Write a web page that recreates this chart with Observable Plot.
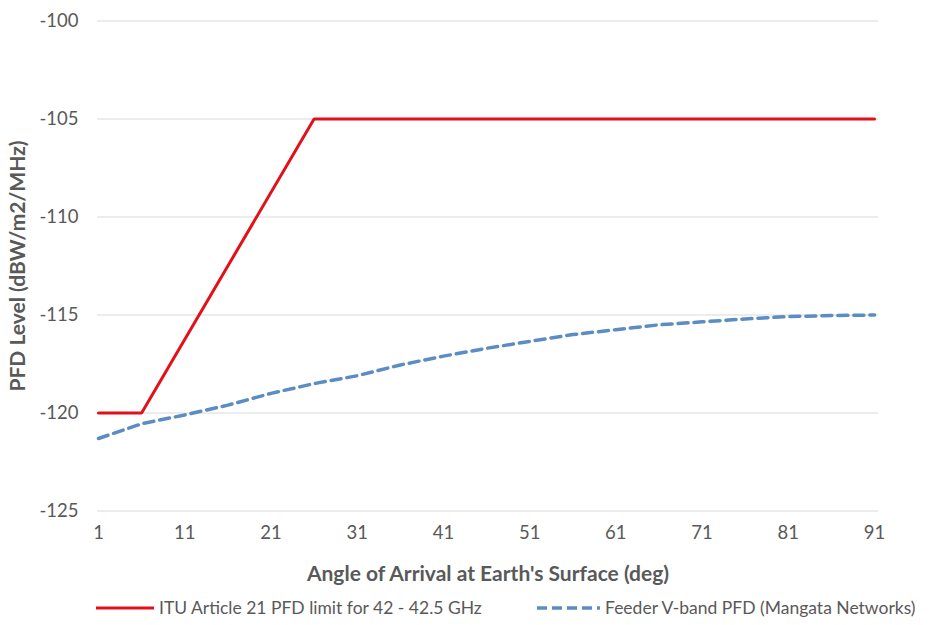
<!DOCTYPE html>
<html><head><meta charset="utf-8">
<script src="https://cdn.jsdelivr.net/npm/d3@7"></script>
<script src="https://cdn.jsdelivr.net/npm/@observablehq/plot@0.6"></script>
<style>
body{margin:0;background:#fff;font-family:Lato, "Open Sans", sans-serif;}
#wrap{position:relative;width:935px;height:625px;}
#legend{position:absolute;left:0;top:590px;width:935px;height:35px;font-size:17.5px;color:#595959;}
#legend .item{position:absolute;top:0;height:35px;display:flex;align-items:center;}
#legend svg{display:block;}
</style>
</head><body>
<div id="wrap"><div id="chart"></div><div id="legend"></div></div>
<script>
// ITU Article 21 PFD limit (vertices)
const ituAngle = [1, 6, 26, 91];
const ituPfd = [-120, -120, -105, -105];
// Feeder V-band PFD (Mangata Networks)
const feederAngle = [1, 6, 11, 16, 21, 26, 31, 36, 41, 46, 51, 56, 61, 66, 71, 76, 81, 86, 91];
const feederPfd = [-121.3, -120.55, -120.1, -119.6, -119.0, -118.5, -118.1, -117.55, -117.1, -116.7, -116.35, -116.0, -115.75, -115.5, -115.35, -115.2, -115.08, -115.03, -115.0];
const xTicks = [1, 11, 21, 31, 41, 51, 61, 71, 81, 91];
const yTicks = [-125, -120, -115, -110, -105, -100];
const seriesNames = ["ITU Article 21 PFD limit for 42 - 42.5 GHz", "Feeder V-band PFD (Mangata Networks)"];
const xTitle = "Angle of Arrival at Earth's Surface (deg)";
const yTitle = "PFD Level (dBW/m2/MHz)";

const red = "#e3101a";
const blue = "#5b8cc4";
const grey = "#595959";

const itu = ituAngle.map((a, i) => ({angle: a, pfd: ituPfd[i]}));
const feeder = feederAngle.map((a, i) => ({angle: a, pfd: feederPfd[i]}));

const chart = Plot.plot({
  width: 935,
  height: 590,
  marginLeft: 97,
  marginRight: 57,
  marginTop: 20.5,
  marginBottom: 79.5,
  style: {fontFamily: "Lato, 'Open Sans', sans-serif", background: "#fff"},
  x: {domain: [0.884, 91.46]},
  y: {domain: [-125, -100]},
  marks: [
    Plot.gridY(yTicks, {stroke: "#d9d9d9", strokeOpacity: 1, strokeWidth: 1}),
    Plot.axisY(yTicks, {tickSize: 0, tickPadding: 19, fontSize: 18.5, fill: grey, label: null, tickFormat: d => String(d)}),
    Plot.axisX(xTicks, {tickSize: 0, tickPadding: 15, fontSize: 18.5, fill: grey, label: null, tickFormat: d => String(d)}),
    Plot.line(feeder, {x: "angle", y: "pfd", stroke: blue, strokeWidth: 3.5, strokeDasharray: "10,6"}),
    Plot.line(itu, {x: "angle", y: "pfd", stroke: red, strokeWidth: 3, strokeLinejoin: "miter"}),
    Plot.text([xTitle], {frameAnchor: "bottom", dy: 70, fontSize: 21, fontWeight: "bold", fill: grey}),
    Plot.text([yTitle], {frameAnchor: "left", dx: -79, rotate: -90, textAnchor: "middle", fontSize: 21, fontWeight: "bold", fill: grey})
  ]
});
document.getElementById("chart").appendChild(chart);

const legend = document.getElementById("legend");
const items = [
  {left: 96, w: 58, color: red, dash: null, width: 3, name: seriesNames[0]},
  {left: 537, w: 63, color: blue, dash: "10,5", width: 3.5, name: seriesNames[1]}
];
for (const it of items) {
  const div = document.createElement("div");
  div.className = "item";
  div.style.left = it.left + "px";
  div.innerHTML = `<svg width="${it.w}" height="10"><line x1="0" x2="${it.w}" y1="5" y2="5" stroke="${it.color}" stroke-width="${it.width}" ${it.dash ? `stroke-dasharray="${it.dash}"` : ""}/></svg><span style="margin-left:5px">${it.name}</span>`;
  legend.appendChild(div);
}
</script>
</body></html>
